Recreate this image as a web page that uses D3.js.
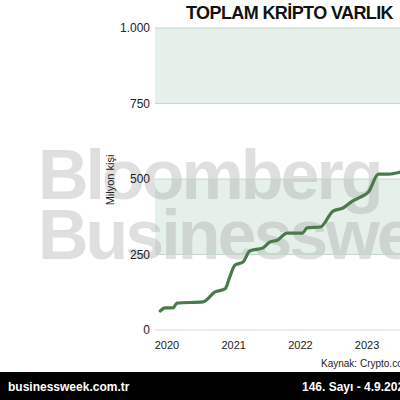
<!DOCTYPE html>
<html><head><meta charset="utf-8">
<script src="https://cdn.jsdelivr.net/npm/d3@7"></script>
<style>body{margin:0;background:#fff}svg{display:block}</style>
</head><body>
<svg width="400" height="400"></svg>
<script>
// data (year fraction, million people)
const years = [2019.9,2019.97,2020.09,2020.15,2020.54,2020.72,2020.87,2020.94,2021.02,2021.14,2021.24,2021.44,2021.54,2021.66,2021.80,2022.03,2022.1,2022.3,2022.49,2022.64,2022.78,2022.9,2023.02,2023.17,2023.32,2023.5];
const users = [63,73,73,89,93,126,136,175,215,225,262,272,291,298,321,321,338,341,394,404,427,440,457,516,516,523];
const yTicks = [0,250,500,750,1000];
const xTicks = [2020,2021,2022,2023];
const bands = [[750,1000],[250,500]];

const svg = d3.select("svg");
const x = d3.scaleLinear().domain([2020,2021]).range([167,233.7]);
const y = d3.scaleLinear().domain([0,1000]).range([330,28]);
const left = 155, right = 400;

svg.append("text").attr("x",186).attr("y",19)
  .attr("font-family","Liberation Sans, Arial").attr("font-weight","bold")
  .attr("font-size",18).attr("letter-spacing",-0.6).attr("fill","#111").text("TOPLAM KRİPTO VARLIK");

bands.forEach(b => {
  svg.append("rect").attr("x",left).attr("width",right-left)
    .attr("y",y(b[1])).attr("height",y(b[0])-y(b[1])).attr("fill","#e6f0ea");
});

// watermark
const wm = svg.append("g").attr("font-family","Liberation Sans, Arial").attr("font-weight","bold")
  .attr("font-size",70).attr("fill","#999").attr("opacity",0.3).attr("letter-spacing",-3);
wm.append("text").attr("x",38).attr("y",199).text("Bloomberg");
wm.append("text").attr("x",38).attr("y",259).text("Businessweek");

yTicks.forEach(t => {
  svg.append("line").attr("x1",left).attr("x2",right).attr("y1",y(t)).attr("y2",y(t))
    .attr("stroke", t===0 ? "#ddd" : "#c5d6ca").attr("stroke-width",1);
  svg.append("text").attr("x",150).attr("y",y(t)+4).attr("text-anchor","end")
    .attr("font-family","Liberation Sans, Arial").attr("font-size",12).attr("fill","#222")
    .text(d3.format(",")(t).replace(",","."));
});
xTicks.forEach(t => {
  svg.append("text").attr("x",x(t)).attr("y",349).attr("text-anchor","middle")
    .attr("font-family","Liberation Sans, Arial").attr("font-size",11).attr("fill","#222").text(t);
});
svg.append("text").attr("transform","translate(114,180) rotate(-90)").attr("text-anchor","middle")
  .attr("font-family","Liberation Sans, Arial").attr("font-size",11).attr("fill","#222").text("Milyon kişi");

svg.append("path").datum(years.map((d,i)=>[d,users[i]]))
  .attr("fill","none").attr("stroke","#4a7a4a").attr("stroke-width",3.2)
  .attr("stroke-linejoin","round").attr("stroke-linecap","round")
  .attr("d", d3.line().x(d=>x(d[0])).y(d=>y(d[1])).curve(d3.curveMonotoneX));

svg.append("text").attr("x",321).attr("y",367)
  .attr("font-family","Liberation Sans, Arial").attr("font-size",10).attr("fill","#222").text("Kaynak: Crypto.com");

svg.append("rect").attr("x",0).attr("y",372).attr("width",400).attr("height",28).attr("fill","#000");
svg.append("text").attr("x",8).attr("y",391).attr("font-family","Liberation Sans, Arial")
  .attr("font-weight","bold").attr("font-size",12).attr("fill","#fff").text("businessweek.com.tr");
svg.append("text").attr("x",302).attr("y",391).attr("font-family","Liberation Sans, Arial")
  .attr("font-weight","bold").attr("font-size",12).attr("fill","#fff").text("146. Sayı - 4.9.2024");
</script>
</body></html>
